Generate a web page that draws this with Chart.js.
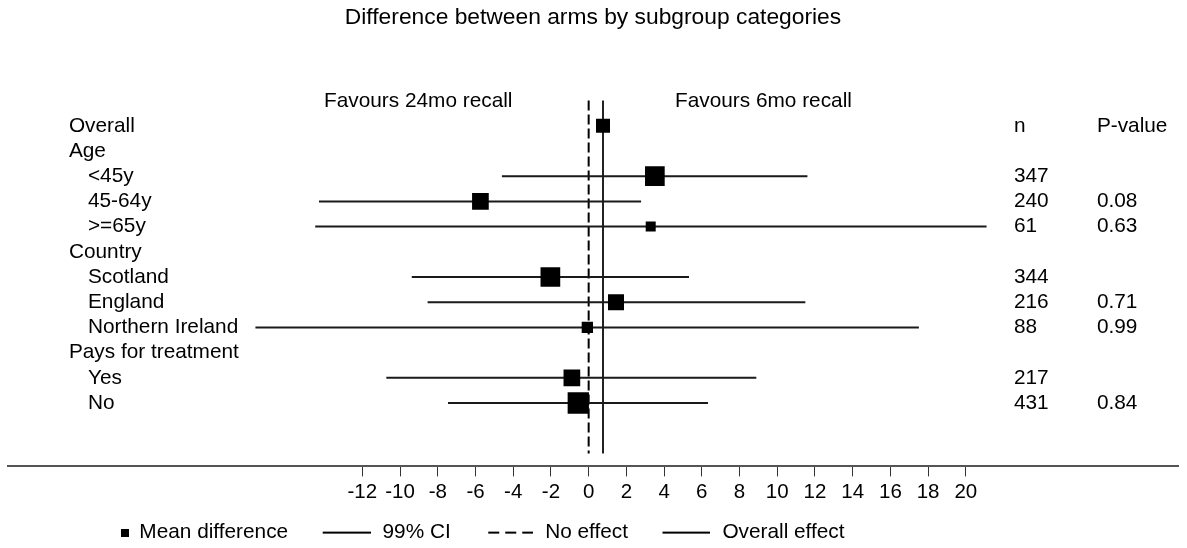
<!DOCTYPE html>
<html>
<head>
<meta charset="utf-8">
<script src="https://cdn.jsdelivr.net/npm/chart.js@4.4.1/dist/chart.umd.min.js"></script>
<style>
  html, body { margin: 0; padding: 0; background: #fff; }
  #wrap { width: 1187px; height: 548px; }
</style>
</head>
<body>
<div id="wrap"><canvas id="forest" width="1187" height="548"></canvas></div>
<script>
// rows of the forest plot, top to bottom
const rowLabels = ['Overall', 'Age', '<45y', '45-64y', '>=65y', 'Country', 'Scotland', 'England', 'Northern Ireland', 'Pays for treatment', 'Yes', 'No'];
const isSubgroup = [false, false, true, true, true, false, true, true, true, false, true, true];
const meanDiff = [0.76, null, 3.51, -5.74, 3.29, null, -2.03, 1.45, -0.07, null, -0.89, -0.55];
const ciLower = [null, null, -4.6, -14.3, -14.5, null, -9.38, -8.54, -17.67, null, -10.73, -7.46];
const ciUpper = [null, null, 11.6, 2.78, 21.1, null, 5.32, 11.49, 17.51, null, 8.89, 6.33];
const nValues = ['', '', '347', '240', '61', '', '344', '216', '88', '', '217', '431'];
const pValues = ['', '', '', '0.08', '0.63', '', '', '0.71', '0.99', '', '', '0.84'];
const columnHeaders = ['n', 'P-value'];
const favourLabels = ['Favours 24mo recall', 'Favours 6mo recall'];
const xTicks = [-12, -10, -8, -6, -4, -2, 0, 2, 4, 6, 8, 10, 12, 14, 16, 18, 20];
const noEffect = 0;
const overallEffect = meanDiff[0];

// marker side in px (weight of each estimate)
const markerSide = [14, 0, 19.7, 16.7, 10, 0, 19.7, 16, 11.3, 0, 16.7, 21.3];

// text column positions, in x axis units
const textCols = { label: -27.56, indent: -26.55, n: 22.55, p: 26.95, favLeft: -14.03, favRight: 4.58 };

const FONT = '"Liberation Sans", Arial, Helvetica, sans-serif';
Chart.defaults.font.family = FONT;
Chart.defaults.color = '#000';

const ciData = [];
rowLabels.forEach((_, i) => {
    if (ciLower[i] == null) return;
    ciData.push({ x: ciLower[i], y: i }, { x: ciUpper[i], y: i }, { x: null, y: null });
});
const squareData = rowLabels.map((_, i) => ({ x: meanDiff[i], y: meanDiff[i] == null ? null : i }));
const lineTop = -1;
const lineBottom = rowLabels.length + 1;

// little legend symbols
function legendIcon(w, h, draw) {
    const c = document.createElement('canvas');
    c.width = w;
    c.height = h;
    draw(c.getContext('2d'));
    return c;
}
const squareIcon = legendIcon(144, 8, g => { g.fillStyle = '#000'; g.fillRect(136, 0, 8, 8); });
function lineIcon(from, dash) {
    return legendIcon(67, 4, g => {
        g.strokeStyle = '#000';
        g.lineWidth = 2;
        g.setLineDash(dash);
        g.beginPath();
        g.moveTo(from, 2);
        g.lineTo(67, 2);
        g.stroke();
    });
}
const legendItems = [
    { text: '\u2003\u2002 Mean difference', pointStyle: squareIcon },
    { text: '99% CI', pointStyle: lineIcon(19, []) },
    { text: 'No effect', pointStyle: lineIcon(22, [11, 6]) },
    { text: 'Overall effect', pointStyle: lineIcon(19, []) }
].map((it, i) => Object.assign(it, { fillStyle: '#000', strokeStyle: '#000', lineWidth: 0, hidden: false, datasetIndex: i }));

const tablePlugin = {
    id: 'forestTable',
    afterDatasetsDraw(chart) {
        const { ctx } = chart;
        const x = chart.scales.x;
        const y = chart.scales.y;
        ctx.save();
        ctx.font = '20.8px ' + FONT;
        ctx.fillStyle = '#000';
        ctx.textAlign = 'left';
        ctx.textBaseline = 'middle';
        rowLabels.forEach((label, i) => {
            const py = y.getPixelForValue(i);
            ctx.fillText(label, x.getPixelForValue(isSubgroup[i] ? textCols.indent : textCols.label), py);
            if (nValues[i]) ctx.fillText(nValues[i], x.getPixelForValue(textCols.n), py);
            if (pValues[i]) ctx.fillText(pValues[i], x.getPixelForValue(textCols.p), py);
        });
        const y0 = y.getPixelForValue(0);
        ctx.fillText(columnHeaders[0], x.getPixelForValue(textCols.n), y0);
        ctx.fillText(columnHeaders[1], x.getPixelForValue(textCols.p), y0);
        const yf = y.getPixelForValue(-0.97);
        ctx.fillText(favourLabels[0], x.getPixelForValue(textCols.favLeft), yf);
        ctx.fillText(favourLabels[1], x.getPixelForValue(textCols.favRight), yf);
        ctx.restore();
    }
};

const chart = new Chart(document.getElementById('forest'), {
    type: 'scatter',
    data: {
        datasets: [{
            label: 'Mean difference',
            data: squareData,
            pointStyle: 'rect',
            pointRadius: markerSide.map(s => s / Math.SQRT2),
            pointBackgroundColor: '#000',
            pointBorderWidth: 0,
            showLine: false
        }, {
            label: '99% CI',
            data: ciData,
            showLine: true,
            spanGaps: false,
            borderColor: '#1a1a1a',
            borderWidth: 2,
            pointRadius: 0
        }, {
            label: 'No effect',
            data: [{ x: noEffect, y: lineTop }, { x: noEffect, y: lineBottom }],
            showLine: true,
            borderColor: '#000',
            borderWidth: 2,
            borderDash: [10, 4],
            pointRadius: 0
        }, {
            label: 'Overall effect',
            data: [{ x: overallEffect, y: lineTop }, { x: overallEffect, y: lineBottom }],
            showLine: true,
            borderColor: '#222',
            borderWidth: 2,
            pointRadius: 0
        }]
    },
    options: {
        responsive: false,
        animation: false,
        layout: { autoPadding: false, padding: { left: 8, right: 9, top: 0, bottom: -5 } },
        plugins: {
            title: {
                display: true,
                text: 'Difference between arms by subgroup categories',
                color: '#000',
                font: { size: 22.8, weight: 'normal' },
                padding: { top: 4, bottom: 18.8 }
            },
            legend: {
                position: 'bottom',
                align: 'start',
                labels: {
                    usePointStyle: true,
                    pointStyleWidth: 70,
                    padding: 14,
                    color: '#000',
                    font: { size: 20.8 },
                    generateLabels: () => legendItems
                },
                onClick: null
            },
            tooltip: { enabled: false }
        },
        scales: {
            x: {
                type: 'linear',
                min: -30.79,
                max: 31.25,
                afterBuildTicks: scale => { scale.ticks = xTicks.map(v => ({ value: v })); },
                afterFit: scale => { scale.paddingLeft = 0; scale.paddingRight = 0; },
                ticks: {
                    autoSkip: false,
                    maxRotation: 0,
                    padding: 3.6,
                    color: '#000',
                    font: { size: 20.5 },
                    callback: v => String(v)
                },
                grid: { drawOnChartArea: false, drawTicks: true, tickLength: 10, color: '#333', lineWidth: 1 },
                border: { display: true, color: '#555', width: 2 }
            },
            y: {
                type: 'linear',
                reverse: true,
                min: -3,
                max: 13.515,
                display: false
            }
        }
    },
    plugins: [tablePlugin]
});
</script>
</body>
</html>
